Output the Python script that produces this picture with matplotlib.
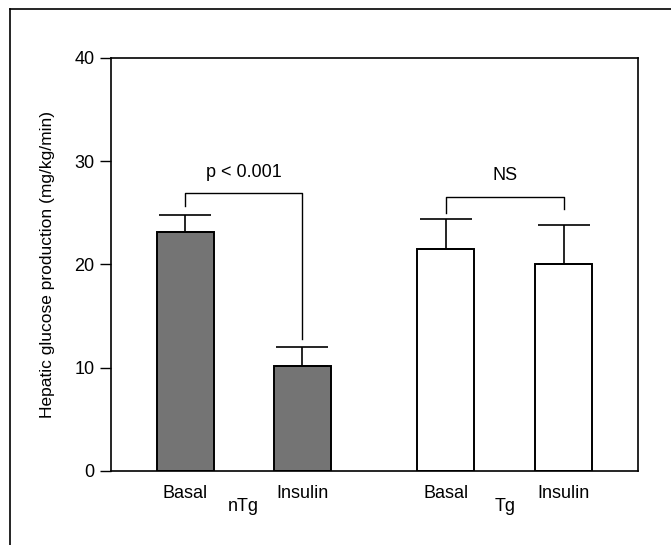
import matplotlib.pyplot as plt
from matplotlib.lines import Line2D

plt.rcParams['font.family'] = ['Liberation Sans', 'DejaVu Sans']

# data
groups = ['nTg', 'Tg']
conditions = ['Basal', 'Insulin', 'Basal', 'Insulin']
posicoes = [0.634, 1.626, 2.851, 3.855]
valores = [23.1, 10.2, 21.5, 20.0]
erros = [1.7, 1.8, 2.9, 3.8]
cores = ['#747474', '#747474', 'white', 'white']
yticks = [0, 10, 20, 30, 40]

fig = plt.figure(figsize=(6.71, 5.45), dpi=100)
ax = fig.add_axes([0.1654, 0.1358, 0.7854, 0.7578])

ax.bar(posicoes, valores, width=0.485, color=cores, edgecolor='black', linewidth=1.4)
ax.errorbar(posicoes, valores, yerr=[[0] * 4, erros], fmt='none', ecolor='black',
            elinewidth=1.2, capsize=19, capthick=1.2)

# significance brackets
ax.plot([posicoes[0], posicoes[0], posicoes[1], posicoes[1]],
        [25.7, 26.9, 26.9, 12.8], color='black', linewidth=1)
ax.text((posicoes[0] + posicoes[1]) / 2, 28.9, 'p < 0.001', ha='center', va='center', fontsize=13)
ax.plot([posicoes[2], posicoes[2], posicoes[3], posicoes[3]],
        [25.0, 26.5, 26.5, 25.4], color='black', linewidth=1)
ax.text((posicoes[2] + posicoes[3]) / 2, 28.6, 'NS', ha='center', va='center', fontsize=13)

ax.set_xlim(0, 4.485)
ax.set_ylim(0, 40)
ax.set_yticks(yticks)
ax.tick_params(axis='y', length=8, width=1, labelsize=13, pad=4)
ax.set_xticks([])
for s in ax.spines.values():
    s.set_linewidth(1.2)
ax.set_ylabel('Hepatic glucose production (mg/kg/min)', fontsize=12.5, labelpad=14)

for p, c in zip(posicoes, conditions):
    ax.text(p, -2.2, c, ha='center', va='center', fontsize=13)
ax.text((posicoes[0] + posicoes[1]) / 2, -3.4, groups[0], ha='center', va='center', fontsize=13)
ax.text((posicoes[2] + posicoes[3]) / 2, -3.4, groups[1], ha='center', va='center', fontsize=13)

# outer frame (left and top edges)
fig.add_artist(Line2D([10 / 671, 10 / 671], [0, 1 - 9 / 545], transform=fig.transFigure, color='black', linewidth=1.2))
fig.add_artist(Line2D([10 / 671, 1], [1 - 9 / 545, 1 - 9 / 545], transform=fig.transFigure, color='black', linewidth=1.2))

fig.savefig('out.png', dpi=100)
